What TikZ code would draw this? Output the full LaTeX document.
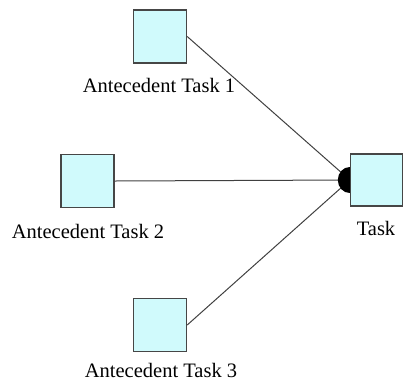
\documentclass[tikz,border=0pt]{standalone}
\usepackage{fontspec}
\setmainfont{Liberation Serif}
\definecolor{taskfill}{RGB}{208,250,252}
\definecolor{taskedge}{RGB}{70,70,70}
\begin{document}
\begin{tikzpicture}[x=1pt,y=1pt,
  taskbox/.style={draw=taskedge,line width=1.4pt,fill=taskfill,minimum size=53pt,inner sep=0pt},
  tasklabel/.style={anchor=base,inner sep=0pt,font=\fontsize{20.5}{24}\selectfont},
  link/.style={draw=black!75,line width=1pt}]
  \useasboundingbox (0,0) rectangle (403,-381);

  % task boxes
  \node[taskbox] (a1) at (160,-36.5) {};
  \node[taskbox] (a2) at (87.5,-181) {};
  \node[taskbox] (a3) at (160,-325) {};
  \node[taskbox,minimum size=52pt] (t) at (376.5,-180) {};

  % labels
  \node[tasklabel] (l1) at (159,-92) {Antecedent Task 1};
  \node[tasklabel] (l2) at (88,-238) {Antecedent Task 2};
  \node[tasklabel] (l3) at (161,-377) {Antecedent Task 3};
  \node[tasklabel] (lt) at (376,-235) {Task};

  % dependency links
  \draw[link] (a1.east) -- (t.west);
  \draw[link] (a2.east) -- (t.west);
  \draw[link] (a3.east) -- (t.west);

  % join marker on the task
  \fill[black] (t.west) ++(0,13) arc (90:270:12 and 13) -- cycle;
\end{tikzpicture}
\end{document}
